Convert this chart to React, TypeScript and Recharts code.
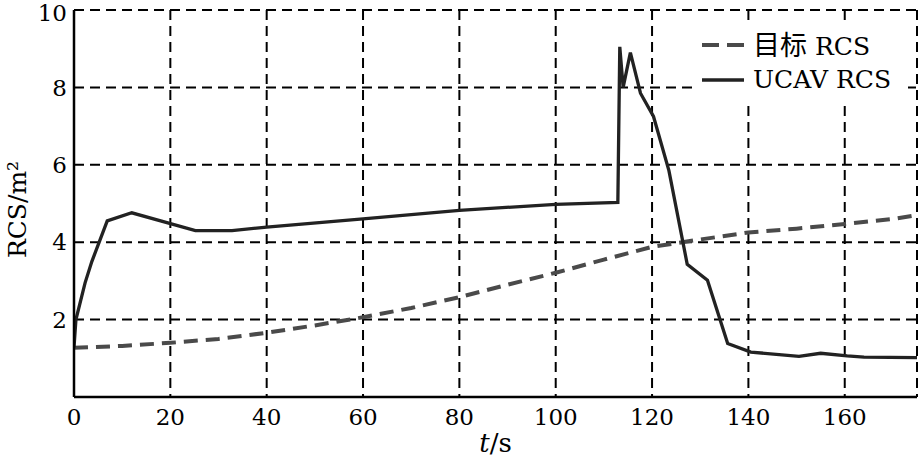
import React from 'react';
import { LineChart, Line, XAxis, YAxis, CartesianGrid, Legend } from 'recharts';

const ucavT = [0, 0.4, 2.3, 3.7, 6.9, 12, 25.2, 32.8, 40, 60, 80, 100, 112.9, 113.3, 114, 115.5, 117.6, 120.3, 123.5, 127.3, 131.5, 135.7, 140.5, 150.5, 155, 160.5, 164, 175];
const ucavV = [1.28, 2.0, 2.95, 3.5, 4.55, 4.76, 4.3, 4.3, 4.39, 4.6, 4.82, 4.98, 5.03, 9.05, 8.0, 8.9, 7.85, 7.25, 5.85, 3.43, 3.02, 1.38, 1.16, 1.05, 1.13, 1.06, 1.03, 1.02];

const targetT = [0, 10, 20, 30, 40, 50, 60, 70, 80, 90, 100, 110, 120, 130, 140, 150, 160, 170, 175];
const targetV = [1.27, 1.32, 1.4, 1.5, 1.66, 1.85, 2.06, 2.3, 2.58, 2.9, 3.21, 3.55, 3.88, 4.07, 4.25, 4.35, 4.47, 4.6, 4.7];

const xTicks = [0, 20, 40, 60, 80, 100, 120, 140, 160];
const yTicks = [2, 4, 6, 8, 10];

const legendCn = ['目标', ''];
const legendEn = ['RCS', 'UCAV RCS'];
const seriesNames = ['目标 RCS', 'UCAV RCS'];
const yLabel = 'RCS/m²';

const ucavData = ucavT.map((t, i) => ({ t, v: ucavV[i] }));
const targetData = targetT.map((t, i) => ({ t, v: targetV[i] }));

const SERIF = 'DejaVu Serif';
const CJK = 'Noto Sans CJK SC';

const YLabel = (props: any) => {
  const vb = props.viewBox || {};
  const cx = vb.x + 17;
  const cy = vb.y + vb.height / 2 + 6;
  return (
    <text x={cx} y={cy} transform={`rotate(-90, ${cx}, ${cy})`} textAnchor="middle" dominantBaseline="central" fontSize={25} fontFamily={SERIF} fill="#000">
      {yLabel}
    </text>
  );
};

const XLabel = (props: any) => {
  const vb = props.viewBox || {};
  const cx = vb.x + vb.width / 2;
  const cy = vb.y + 55;
  return (
    <text x={cx} y={cy} textAnchor="middle" fontSize={26} fontFamily={SERIF} fill="#000">
      <tspan fontStyle="italic">t</tspan>
      <tspan>/s</tspan>
    </text>
  );
};

const LegendContent = () => (
  <div style={{ background: '#fff', width: 216, height: 77, position: 'relative', fontFamily: SERIF, fontSize: 25, color: '#000' }}>
    <svg width={60} height={77} style={{ position: 'absolute', left: 0, top: 0 }}>
      <line x1={10} y1={22} x2={52} y2={22} stroke="#4a4a4a" strokeWidth={4} strokeDasharray="17 8" />
      <line x1={10} y1={57} x2={52} y2={57} stroke="#222" strokeWidth={3.5} />
    </svg>
    {[0, 1].map((i) => (
      <div key={i} style={{ position: 'absolute', left: 61, top: i === 0 ? 22 : 57, transform: 'translateY(-50%)', whiteSpace: 'nowrap', lineHeight: '30px' }}>
        {legendCn[i] ? <span style={{ fontFamily: CJK, fontSize: 27 }}>{legendCn[i]}</span> : null}
        {legendCn[i] ? ' ' : ''}
        {legendEn[i]}
      </div>
    ))}
  </div>
);

const tickProps = { fontSize: 23, fill: '#000', fontFamily: SERIF };

export default function App() {
  return (
    <div style={{ position: 'absolute', left: 0, top: 0, background: '#fff' }}>
      <LineChart width={920} height={464} margin={{ top: 10, right: 3, bottom: 0, left: 0 }}>
        <CartesianGrid stroke="#000" strokeWidth={2} strokeDasharray="10 6" />
        <XAxis
          xAxisId={0}
          dataKey="t"
          type="number"
          domain={[0, 175]}
          ticks={xTicks}
          allowDataOverflow
          height={67}
          tickSize={0}
          tickMargin={12}
          tickLine={false}
          axisLine={{ stroke: '#000', strokeWidth: 2.5 }}
          tick={tickProps}
          label={<XLabel />}
        />
        <XAxis xAxisId="top" orientation="top" type="number" domain={[0, 1]} height={0} tick={false} tickLine={false} axisLine={{ stroke: '#000', strokeWidth: 2.5 }} />
        <YAxis
          yAxisId={0}
          type="number"
          domain={[0, 10]}
          ticks={yTicks}
          allowDataOverflow
          width={74}
          tickSize={0}
          tickMargin={7}
          tickLine={false}
          axisLine={{ stroke: '#000', strokeWidth: 2.5 }}
          tick={tickProps}
          label={<YLabel />}
        />
        <YAxis yAxisId="right" orientation="right" type="number" domain={[0, 1]} width={0} tick={false} tickLine={false} axisLine={{ stroke: '#000', strokeWidth: 2.5 }} />
        <Line
          data={targetData}
          dataKey="v"
          name={seriesNames[0]}
          type="linear"
          stroke="#4a4a4a"
          strokeWidth={4}
          strokeDasharray="14 8"
          dot={false}
          activeDot={false}
          isAnimationActive={false}
        />
        <Line
          data={ucavData}
          dataKey="v"
          name={seriesNames[1]}
          type="linear"
          stroke="#222"
          strokeWidth={3.3}
          strokeLinejoin="miter"
          dot={false}
          activeDot={false}
          isAnimationActive={false}
        />
        <Legend
          layout="horizontal"
          align="center"
          verticalAlign="middle"
          content={<LegendContent />}
          wrapperStyle={{ left: 692, top: 23, width: 216, height: 77 }}
        />
      </LineChart>
    </div>
  );
}
